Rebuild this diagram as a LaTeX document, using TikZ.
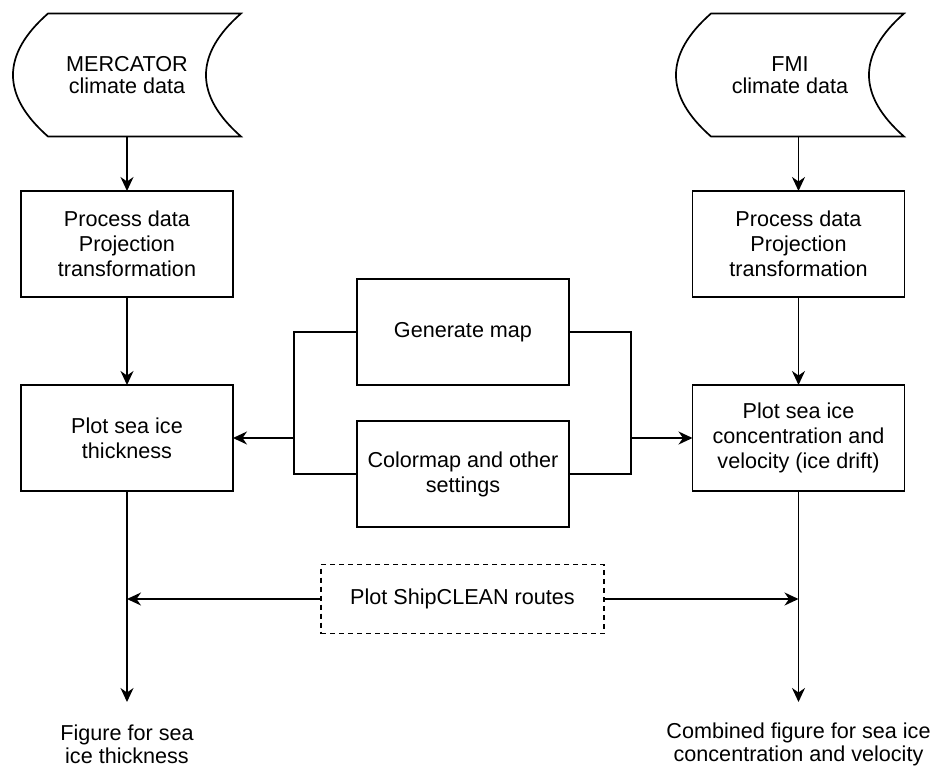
\documentclass[tikz,border=0pt]{standalone}
\usepackage{fontspec}
\setmainfont{Liberation Sans}
\usetikzlibrary{arrows.meta,calc}
\newcommand\fsz{\fontsize{21.6}{25}\selectfont}
\newcommand\fszb{\fontsize{21.6}{23}\selectfont}
\newcommand\fszs{\fontsize{21.6}{22.5}\selectfont}
\newcommand\datastore[1]{%
  \draw ($(#1.north west)+(35,0)$) -- (#1.north east)
    .. controls ($(#1.north east)+(-46.7,41)$) and ($(#1.south east)+(-46.7,-41)$) .. (#1.south east)
    -- ($(#1.south west)+(35,0)$)
    .. controls ($(#1.south west)+(-11.7,-41)$) and ($(#1.north west)+(-11.7,41)$) .. ($(#1.north west)+(35,0)$)
    -- cycle;}
\begin{document}
\begin{tikzpicture}[x=1pt,y=-1pt,line width=1.7pt,
  box/.style={draw,minimum width=212pt,minimum height=106pt,inner sep=0pt,outer sep=0pt,align=center,font=\fsz},
  store/.style={minimum width=228pt,minimum height=123pt,inner sep=0pt,outer sep=0pt,align=center,font=\fszs},
  arr/.style={-{Stealth[length=14pt,width=13pt,inset=4.5pt]}},
  lbl/.style={align=center,font=\fszb,inner sep=0pt}]
\useasboundingbox (0,0) rectangle (938,769);

\node[store] (merc) at (127,75) {MERCATOR\\climate data};
\node[store] (fmi) at (790,75) {FMI\\climate data};
\datastore{merc}
\datastore{fmi}

\node[box] (procL) at (127,244) {Process data\\Projection\\transformation};
\node[box] (procR) at (798.5,244) {Process data\\Projection\\transformation};
\node[box] (plotL) at (127,438) {Plot sea ice\\thickness};
\node[box] (plotR) at (798.5,438) {Plot sea ice\\concentration and\\velocity (ice drift)};
\node[box] (gen) at (463,332) {Generate map};
\node[box] (cmap) at (463,474) {Colormap and other\\settings};
\node[box,dash pattern=on 5pt off 4pt,minimum width=283pt,minimum height=69pt] (ship) at (462.5,599) {Plot ShipCLEAN routes};

\coordinate (endL) at (127,702);
\coordinate (endR) at (798.5,702);
\coordinate (bL) at (294,438);
\coordinate (bR) at (631,438);

\node[lbl] (figL) at (127,744) {Figure for sea\\ice thickness};
\node[lbl] (figR) at (798.5,744) {Combined figure for sea ice\\concentration and velocity};

\draw[arr] (procL.north |- merc.south) -- (procL.north);
\draw[arr] (procR.north |- fmi.south) -- (procR.north);
\draw[arr] (procL.south) -- (plotL.north);
\draw[arr] (procR.south) -- (plotR.north);

\draw (gen.west) -| (bL) |- (cmap.west);
\draw[arr] (bL) -- (plotL.east);
\draw (gen.east) -| (bR) |- (cmap.east);
\draw[arr] (bR) -- (plotR.west);

\draw[arr] (plotL.south) -- (endL);
\draw[arr] (plotR.south) -- (endR);
\draw[arr] (ship.west) -- (ship.west -| plotL.south);
\draw[arr] (ship.east) -- (ship.east -| plotR.south);
\end{tikzpicture}
\end{document}
